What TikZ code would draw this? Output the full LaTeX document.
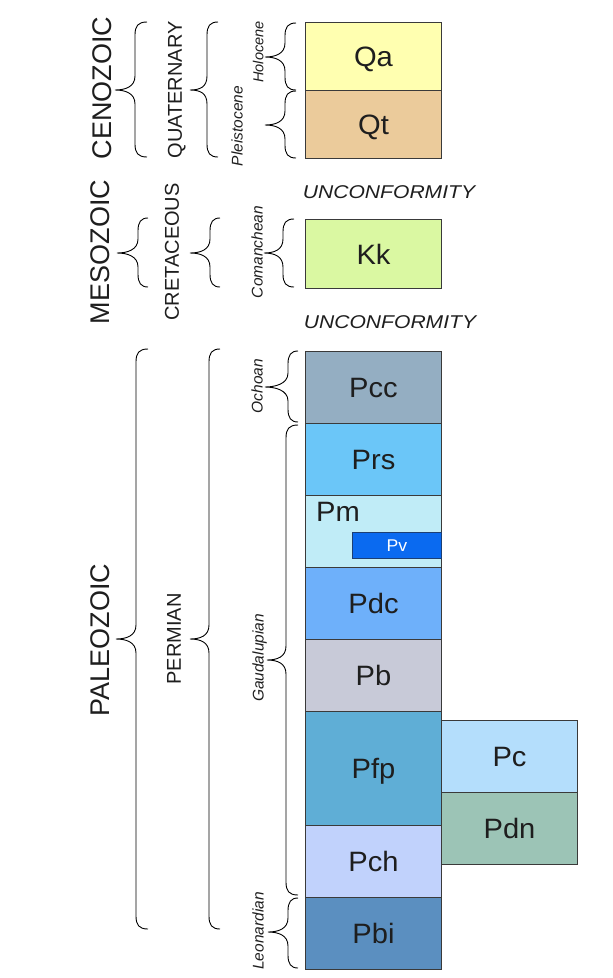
\documentclass[tikz,border=0pt]{standalone}
\usepackage{graphicx}
\usepackage{fontspec}
\setmainfont{Liberation Sans}
\definecolor{boxline}{HTML}{3A3A3A}
\definecolor{txt}{HTML}{1E1E1E}
\definecolor{cQa}{HTML}{FFFFB0}
\definecolor{cQt}{HTML}{EBCB9B}
\definecolor{cKk}{HTML}{DAF8A2}
\definecolor{cPcc}{HTML}{94AEC2}
\definecolor{cPrs}{HTML}{6BC6F8}
\definecolor{cPm}{HTML}{C0ECF7}
\definecolor{cPv}{HTML}{0A6AF0}
\definecolor{cPvline}{HTML}{1C3F73}
\definecolor{cPdc}{HTML}{6EB0FA}
\definecolor{cPb}{HTML}{C8CAD8}
\definecolor{cPfp}{HTML}{5FAED6}
\definecolor{cPch}{HTML}{C1D2FC}
\definecolor{cPbi}{HTML}{5B8FC0}
\definecolor{cPc}{HTML}{B4DEFC}
\definecolor{cPdn}{HTML}{9CC4B6}
\newcommand\sxx[2]{\scalebox{#1}[1]{#2}}
\newcommand\gbr[6]{\draw[curly] (#1,#4) .. controls (#2+3,#4) and (#2,#4+4) .. (#2,#4+13) -- (#2,#5-14) .. controls (#2,#5-3) and (#3+10,#5) .. (#3,#5) .. controls (#3+10,#5) and (#2,#5+3) .. (#2,#5+14) -- (#2,#6-13) .. controls (#2,#6-4) and (#2+3,#6) .. (#1,#6);}
\begin{document}
\begin{tikzpicture}[x=1pt,y=-1pt,
  unitbox/.style={draw=boxline, line width=1pt, anchor=north west, minimum width=136pt, inner sep=0pt, text depth=0pt, font=\fontsize{28}{28}\selectfont, text=txt},
  era/.style={rotate=90, inner sep=0pt, text depth=0pt, font=\fontsize{27}{27}\selectfont, text=txt},
  period/.style={rotate=90, inner sep=0pt, text depth=0pt, font=\fontsize{20}{20}\selectfont, text=txt},
  epoch/.style={rotate=90, inner sep=0pt, text depth=0pt, font=\fontsize{15.5}{15.5}\selectfont\itshape, text=txt},
  unconf/.style={inner sep=0pt, text depth=0pt, font=\fontsize{18.5}{18.5}\selectfont\itshape, text=txt},
  curly/.style={draw=black, line width=0.9pt}
]
\useasboundingbox (0,0) rectangle (613,978);
% units
\node[unitbox, fill=cQa, minimum height=68pt] (Qa) at (305,22) {\sxx{1.04}{Qa}};
\node[unitbox, fill=cQt, minimum height=68pt] (Qt) at (305,90) {\sxx{1.04}{Qt}};
\node[unitbox, fill=cKk, minimum height=69pt] (Kk) at (305,219) {\sxx{1.04}{Kk}};
\node[unitbox, fill=cPcc, minimum height=72pt] (Pcc) at (305,351) {\sxx{1.04}{Pcc}};
\node[unitbox, fill=cPrs, minimum height=72pt] (Prs) at (305,423) {\sxx{1.04}{Prs}};
\node[unitbox, fill=cPm, minimum height=72pt] (Pm) at (305,495) {};
\node[unitbox, fill=cPdc, minimum height=72pt] (Pdc) at (305,567) {\sxx{1.04}{Pdc}};
\node[unitbox, fill=cPb, minimum height=72pt] (Pb) at (305,639) {\sxx{1.04}{Pb}};
\node[unitbox, fill=cPfp, minimum height=114pt] (Pfp) at (305,711) {\sxx{1.04}{Pfp}};
\node[unitbox, fill=cPch, minimum height=72pt] (Pch) at (305,825) {\sxx{1.04}{Pch}};
\node[unitbox, fill=cPbi, minimum height=72pt] (Pbi) at (305,897) {\sxx{1.04}{Pbi}};
\node[unitbox, fill=cPc, minimum height=72pt] (Pc) at (441,720) {\sxx{1.04}{Pc}};
\node[unitbox, fill=cPdn, minimum height=72pt] (Pdn) at (441,792) {\sxx{1.04}{Pdn}};
\node[inner sep=0pt, text depth=0pt, font=\fontsize{28}{28}\selectfont, text=txt] (PmL) at (338,512) {\sxx{1.04}{Pm}};
\node[draw=cPvline, line width=1pt, fill=cPv, anchor=north west, minimum width=89pt, minimum height=26pt, inner sep=0pt, font=\fontsize{17}{17}\selectfont, text=white] (Pv) at (352,532) {\sxx{1.04}{Pv}};
% unconformities
\node[unconf] (U1) at (389,192) {\sxx{1.14}{UNCONFORMITY}};
\node[unconf] (U2) at (390,322) {\sxx{1.14}{UNCONFORMITY}};
% eras
\node[era] (Ceno) at (102,88) {CENOZOIC};
\node[era] (Meso) at (100,252) {MESOZOIC};
\node[era] (Paleo) at (100,640) {PALEOZOIC};
% periods
\node[period] (Quat) at (175,90) {QUATERNARY};
\node[period] (Cret) at (172,252) {CRETACEOUS};
\node[period] (Perm) at (174,639) {PERMIAN};
% epochs
\node[epoch, font=\fontsize{14.5}{14.5}\selectfont\itshape] (Holo) at (258,52) {Holocene};
\node[epoch] (Pleis) at (237,126) {Pleistocene};
\node[epoch] (Coman) at (257,252) {Comanchean};
\node[epoch] (Ocho) at (257,386) {Ochoan};
\node[epoch] (Gaud) at (258,658) {Gaudalupian};
\node[epoch] (Leon) at (258,931) {Leonardian};
% braces
\gbr{147}{135}{115}{22}{90}{157}
\gbr{218}{207}{190}{22}{90}{157}
\gbr{296}{285}{265}{23}{57}{90}
\gbr{296}{285}{265}{91}{125}{158}
\gbr{148}{138}{117}{218}{253}{287}
\gbr{220}{210}{190}{218}{253}{287}
\gbr{294}{283}{264}{219}{253}{287}
\gbr{148}{136}{116}{349}{639}{929}
\gbr{220}{209}{190}{349}{639}{929}
\gbr{298}{288}{265}{351}{387}{422}
\gbr{298}{286}{267}{425}{660}{895}
\gbr{298}{288}{268}{898}{932}{968}
\end{tikzpicture}
\end{document}
